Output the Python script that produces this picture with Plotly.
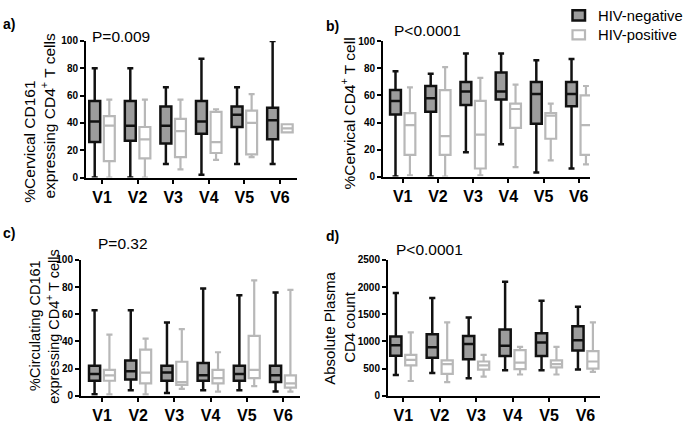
import plotly.graph_objects as go

visits = ["V1", "V2", "V3", "V4", "V5", "V6"]

# Panel a: %Cervical CD161 expressing CD4+ T cells
a_neg_low = [0, 0, 10, 2, 10, 10]
a_neg_q1 = [26, 27, 25, 32, 37, 28]
a_neg_med = [41, 38, 38, 41, 46, 42]
a_neg_q3 = [56, 56, 52, 56, 52, 51]
a_neg_high = [80, 80, 66, 87, 66, 100]
a_pos_low = [0, 0, 6, 13, 15, 33]
a_pos_q1 = [12, 14, 15, 18, 17, 33]
a_pos_med = [38, 28, 34, 26, 40, 36]
a_pos_q3 = [45, 37, 43, 48, 49, 39]
a_pos_high = [57, 57, 57, 50, 61, 39]

# Panel b: %Cervical CD4+ T cell
b_neg_low = [0, 0, 18, 24, 3, 6]
b_neg_q1 = [46, 48, 53, 57, 39, 52]
b_neg_med = [56, 58, 63, 63, 61, 61]
b_neg_q3 = [64, 67, 70, 77, 70, 70]
b_neg_high = [78, 76, 91, 91, 86, 87]
b_pos_low = [1, 0, 1, 7, 12, 9]
b_pos_q1 = [16, 16, 6, 36, 28, 16]
b_pos_med = [38, 30, 31, 50, 45, 38]
b_pos_q3 = [47, 64, 56, 54, 47, 60]
b_pos_high = [66, 81, 73, 68, 54, 67]

# Panel c: %Circulating CD161 expressing CD4+ T cells
c_neg_low = [1, 4, 2, 4, 4, 3]
c_neg_q1 = [11, 12, 11, 11, 11, 10]
c_neg_med = [16, 18, 17, 15, 16, 15]
c_neg_q3 = [22, 26, 22, 24, 22, 22]
c_neg_high = [63, 63, 54, 79, 74, 76]
c_pos_low = [1, 1, 5, 3, 7, 3]
c_pos_q1 = [11, 9, 8, 9, 13, 6]
c_pos_med = [15, 17, 10, 13, 19, 9]
c_pos_q3 = [19, 34, 25, 19, 44, 15]
c_pos_high = [45, 42, 49, 32, 85, 78]

# Panel d: Absolute Plasma CD4 count
d_neg_low = [380, 420, 320, 470, 470, 480]
d_neg_q1 = [735, 700, 670, 730, 730, 830]
d_neg_med = [930, 890, 950, 920, 980, 1020]
d_neg_q3 = [1090, 1130, 1100, 1220, 1150, 1280]
d_neg_high = [1890, 1800, 1440, 2100, 1750, 1640]
d_pos_low = [270, 250, 350, 390, 390, 440]
d_pos_q1 = [557, 400, 480, 490, 520, 500]
d_pos_med = [660, 580, 560, 610, 580, 630]
d_pos_q3 = [752, 650, 630, 840, 650, 820]
d_pos_high = [1167, 1350, 750, 900, 900, 1350]

group_names = ["HIV-negative", "HIV-positive"]

NEG_FILL = "#9c9c9c"
NEG_LINE = "#111111"
POS_LINE = "#b8b8b8"
FONT = "Liberation Sans, Arial, sans-serif"

panels = [
    ("x", "y", (a_neg_low, a_neg_q1, a_neg_med, a_neg_q3, a_neg_high),
     (a_pos_low, a_pos_q1, a_pos_med, a_pos_q3, a_pos_high)),
    ("x2", "y2", (b_neg_low, b_neg_q1, b_neg_med, b_neg_q3, b_neg_high),
     (b_pos_low, b_pos_q1, b_pos_med, b_pos_q3, b_pos_high)),
    ("x3", "y3", (c_neg_low, c_neg_q1, c_neg_med, c_neg_q3, c_neg_high),
     (c_pos_low, c_pos_q1, c_pos_med, c_pos_q3, c_pos_high)),
    ("x4", "y4", (d_neg_low, d_neg_q1, d_neg_med, d_neg_q3, d_neg_high),
     (d_pos_low, d_pos_q1, d_pos_med, d_pos_q3, d_pos_high)),
]

fig = go.Figure()
for i, (xa, ya, neg, pos) in enumerate(panels):
    for name, stats, fill, line, lw, og in [
        (group_names[0], neg, NEG_FILL, NEG_LINE, 2.5, "neg"),
        (group_names[1], pos, "#ffffff", POS_LINE, 2.2, "pos"),
    ]:
        lo, q1, med, q3, hi = stats
        fig.add_trace(go.Box(
            x=visits, lowerfence=lo, q1=q1, median=med, q3=q3, upperfence=hi,
            name=name, legendgroup=name, showlegend=False,
            offsetgroup=og, fillcolor=fill, line=dict(color=line, width=lw),
            whiskerwidth=0.55, xaxis=xa, yaxis=ya, hoverinfo="skip",
        ))

W, H = 685, 424
def px_x(v):
    return v / W
def px_y(v):
    return (H - v) / H

axis_common = dict(showline=True, linecolor="black", linewidth=2, ticks="outside",
                   ticklen=4, tickwidth=2, tickcolor="black", showgrid=False,
                   zeroline=False)
xfont = dict(family=FONT, size=16, color="black", weight="bold")
yfont = dict(family=FONT, size=10, color="black", weight="bold")

layout = dict(
    width=W, height=H, margin=dict(l=0, r=0, t=0, b=0),
    paper_bgcolor="white", plot_bgcolor="white",
    boxmode="group", boxgap=0.18, boxgroupgap=0.25,
    font=dict(family=FONT, color="black"),
    showlegend=False,
    xaxis=dict(domain=[px_x(86), px_x(297)], range=[-0.45, 5.48], anchor="y",
               tickfont=xfont, **axis_common),
    yaxis=dict(domain=[px_y(177), px_y(36)], range=[0, 100], dtick=20, anchor="x",
               tickfont=yfont, **axis_common),
    xaxis2=dict(domain=[px_x(383), px_x(590)], range=[-0.56, 5.32], anchor="y2",
                tickfont=xfont, **axis_common),
    yaxis2=dict(domain=[px_y(176), px_y(36.5)], range=[0, 100], dtick=20, anchor="x2",
                tickfont=yfont, **axis_common),
    xaxis3=dict(domain=[px_x(81), px_x(300)], range=[-0.58, 5.47], anchor="y3",
                tickfont=xfont, **axis_common),
    yaxis3=dict(domain=[px_y(402), px_y(262)], range=[0, 100], dtick=20, anchor="x3",
                tickfont=yfont, **axis_common),
    xaxis4=dict(domain=[px_x(388), px_x(600)], range=[-0.42, 5.4], anchor="y4",
                tickfont=xfont, **axis_common),
    yaxis4=dict(domain=[px_y(402), px_y(262)], range=[0, 2500], dtick=500, anchor="x4",
                tickfont=yfont, **axis_common),
)
fig.update_layout(**layout)

ann = []
def text(x, y, t, size=14, bold=False, xanchor="left", angle=0, align="center"):
    ann.append(dict(x=px_x(x), y=px_y(y), xref="paper", yref="paper", text=t,
                    showarrow=False, xanchor=xanchor, yanchor="middle",
                    textangle=angle, align=align,
                    font=dict(family=FONT, size=size, color="black",
                              weight="bold" if bold else "normal")))

# panel letters
text(1, 19, "a)", 14, True)
text(324, 21, "b)", 14, True)
text(1, 234, "c)", 14, True)
text(324, 237, "d)", 14, True)
# p-values
text(90, 31, "P=0.009", 15.5)
text(392, 25, "P<0.0001", 15.5)
text(96, 245, "P=0.32", 15.5)
text(394, 251, "P<0.0001", 15.5)
# y-axis titles (one annotation per line)
text(30, 140, "%Cervical CD161", 15.5, xanchor="center", angle=-90)
text(48, 114, "expressing CD4<sup>+</sup> T cells", 15.5, xanchor="center", angle=-90)
text(348, 111, "%Cervical CD4<sup>+</sup> T cell", 15.5, xanchor="center", angle=-90)
text(35, 330, "%Circulating CD161", 14.5, xanchor="center", angle=-90)
text(53, 331, "expressing CD4<sup>+</sup> T cells", 14.5, xanchor="center", angle=-90)
text(330, 333, "Absolute Plasma", 15, xanchor="center", angle=-90)
text(350, 331, "CD4 count", 15, xanchor="center", angle=-90)
# legend labels
text(596, 10, group_names[0], 14.8)
text(596, 29.5, group_names[1], 14.8)
fig.update_layout(annotations=ann)

# legend swatches
fig.add_shape(type="rect", xref="paper", yref="paper",
              x0=px_x(572.5), x1=px_x(585), y0=px_y(15), y1=px_y(4.5),
              fillcolor=NEG_FILL, line=dict(color=NEG_LINE, width=2.5))
fig.add_shape(type="rect", xref="paper", yref="paper",
              x0=px_x(572.5), x1=px_x(585), y0=px_y(34.5), y1=px_y(25),
              fillcolor="#ffffff", line=dict(color=POS_LINE, width=2.2))

fig.write_html("out.html", config={"displayModeBar": False},
               post_script="document.body.style.margin='0';document.body.style.overflow='hidden';")
